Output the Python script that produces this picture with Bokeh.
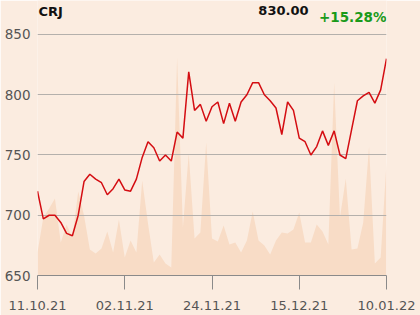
from bokeh.plotting import figure
from bokeh.models import Range1d, FixedTicker, Label
from bokeh.embed import file_html
from bokeh.resources import INLINE

# price series (61 trading days, 11.10.21 .. 10.01.22)
price = [720, 697, 700, 700, 694, 685, 683, 700, 728, 734,
         730, 727, 717, 722, 730, 721, 720, 730, 748, 761,
         756, 745, 750, 745, 769, 764, 819, 787, 792, 778,
         790, 794, 776, 793, 778, 794, 800, 810, 810, 800,
         795, 789, 767, 794, 787, 764, 761, 750, 757, 770,
         758, 770, 750, 747, 771, 795, 799, 802, 793, 804,
         830]
# traded volume (arbitrary units)
volume = [23, 58, 67, 77, 33, 51, 38, 84, 60, 26,
          22, 27, 44, 23, 56, 18, 35, 23, 95, 52,
          13, 21, 12, 8, 218, 48, 122, 37, 43, 133,
          37, 34, 50, 31, 33, 23, 35, 64, 35, 30,
          21, 35, 43, 42, 46, 63, 33, 33, 51, 44,
          31, 193, 58, 97, 26, 27, 53, 129, 12, 18,
          113]
tick_index = [0, 15, 30, 45, 60]
tick_labels = ["11.10.21", "02.11.21", "24.11.21", "15.12.21", "10.01.22"]
y_ticks = [650, 700, 750, 800, 850]
symbol = "CRJ"
last_price = "830.00"
change = "+15.28%"

idx = list(range(len(price)))

BG = "#fbece0"
p = figure(width=420, height=315, output_backend="svg", toolbar_location=None,
           x_range=Range1d(0, len(price) - 1), y_range=Range1d(650, 878.2),
           min_border_left=37, min_border_right=34, min_border_top=0,
           min_border_bottom=40)
p.background_fill_color = BG
p.border_fill_color = BG
p.outline_line_color = None

p.extra_y_ranges = {"vol": Range1d(0, 275)}
area = p.varea(x=idx, y1=[0] * len(idx), y2=volume, y_range_name="vol",
               fill_color="#f8dcc6")
area.level = "image"

p.line(idx, price, line_color="#d40d12", line_width=1.5)

p.xgrid.grid_line_color = None
p.ygrid.grid_line_color = "#b4b0ac"
p.ygrid.ticker = FixedTicker(ticks=y_ticks)

ya = p.yaxis[0]
ya.ticker = FixedTicker(ticks=y_ticks)
ya.axis_line_color = None
ya.major_tick_line_color = None
ya.minor_tick_line_color = None
ya.major_tick_out = 0
ya.major_label_standoff = 7
ya.major_label_text_font = "DejaVu Sans"
ya.major_label_text_font_size = "13.5px"
ya.major_label_text_color = "#555555"

xa = p.xaxis[0]
xa.ticker = FixedTicker(ticks=tick_index)
xa.major_label_overrides = {i: l for i, l in zip(tick_index, tick_labels)}
xa.axis_line_color = "#8a8a8a"
xa.major_tick_line_color = "#8a8a8a"
xa.minor_tick_line_color = None
xa.major_tick_in = 0
xa.major_tick_out = 14
xa.major_label_standoff = 11
xa.major_label_text_font = "DejaVu Sans"
xa.major_label_text_font_size = "13px"
xa.major_label_text_color = "#555555"

# header texts (frame spans canvas y 0..275, measured from its bottom)
p.add_layout(Label(x=1, y=264, x_units="screen", y_units="screen", text=symbol,
                   text_font="DejaVu Sans", text_font_style="bold",
                   text_font_size="13px", text_color="#111111",
                   text_baseline="middle", text_align="left"))
p.add_layout(Label(x=271, y=265.5, x_units="screen", y_units="screen", text=last_price,
                   text_font="DejaVu Sans", text_font_style="bold",
                   text_font_size="13px", text_color="#111111",
                   text_baseline="middle", text_align="right"))
p.add_layout(Label(x=349, y=259, x_units="screen", y_units="screen", text=change,
                   text_font="DejaVu Sans", text_font_style="bold",
                   text_font_size="13.5px", text_color="#1a9a1a",
                   text_baseline="middle", text_align="right"))

open("out.html", "w").write(file_html(p, INLINE))
